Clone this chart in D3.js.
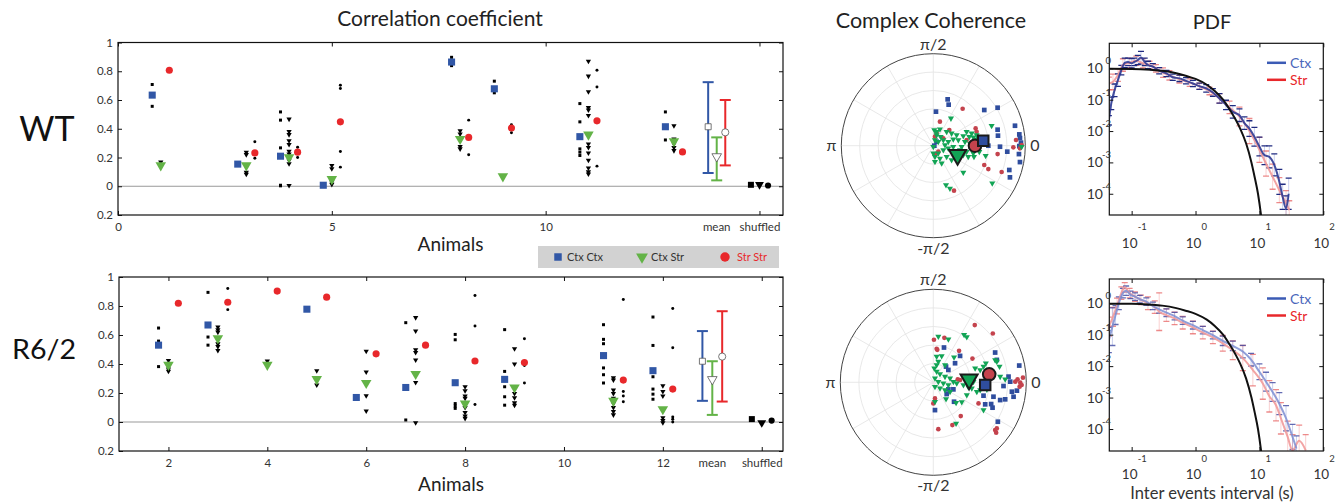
<!DOCTYPE html>
<html>
<head>
<meta charset="utf-8">
<script src="https://cdn.jsdelivr.net/npm/d3@7"></script>
<style>
  body { margin: 0; background: #fff; }
  text { font-family: Lato, "Open Sans", sans-serif; }
</style>
</head>
<body>
<svg id="fig" width="1340" height="504"></svg>
<script>
// ---------- correlation coefficient, WT ----------
var wtAnimals = [1, 3, 4, 5, 8, 9, 11, 13];
var wtCtxCtx = [0.634, 0.154, 0.209, 0.007, 0.864, 0.678, 0.345, 0.414];
var wtCtxStr = [0.145, 0.145, 0.202, 0.05, 0.329, 0.069, 0.359, 0.313];
var wtStrStr = [0.807, 0.232, 0.237, 0.448, 0.34, 0.405, 0.455, 0.239];
var wtPairsCtxCtx = [[0.708, 0.556], [0.154], [0.517, 0.46, 0.267, 0.007, 0.003], [0.005], [0.897, 0.839], [0.731, 0.65], [0.575, 0.448, 0.26, 0.237, 0.214], [0.517, 0.322]];
var wtPairsCtxStr = [[0.168, 0.145], [0.237, 0.22, 0.098, 0.083], [0.467, 0.381, 0.359, 0.317, 0.29, 0.243, 0.225, 0.18, 0.156, 0.005], [0.145, 0.122, 0.03, 0.013], [0.386, 0.363, 0.276, 0.26], [0.069], [0.869, 0.766, 0.657, 0.547, 0.53, 0.492, 0.294, 0.27, 0.232, 0.181, 0.127, 0.1, 0.085], [0.421, 0.329, 0.294, 0.27, 0.248]];
var wtPairsStrStr = [[], [0.31, 0.195], [0.271, 0.237, 0.2], [0.703, 0.68, 0.241, 0.133], [0.46, 0.219], [0.428, 0.372], [0.807, 0.69, 0.14], []];
var wtMeanVal = [0.414, 0.207, 0.375];
var wtMeanLo = [0.092, 0.041, 0.145];
var wtMeanHi = [0.724, 0.34, 0.6];
var wtShuffled = [0.01, 0.012, 0.005];
var wtXTicks = [0, 5, 10, 15];
var wtXTickLabels = ["0", "5", "10", "shuffled"];

// ---------- correlation coefficient, R6/2 ----------
var r6Animals = [2, 3, 4, 5, 6, 7, 8, 9, 11, 12];
var r6CtxCtx = [0.53, 0.669, null, 0.778, 0.169, 0.238, 0.271, 0.294, 0.458, 0.354];
var r6CtxStr = [0.394, 0.578, 0.394, 0.296, 0.269, 0.331, 0.127, 0.238, 0.146, 0.088];
var r6StrStr = [0.819, 0.826, 0.903, 0.861, 0.47, 0.53, 0.421, 0.41, 0.289, 0.227];
var r6PairsCtxCtx = [[0.648, 0.558, 0.382], [0.894, 0.586, 0.53], [], [], [], [0.685, 0.014], [0.604, 0.567, 0.127, 0.11, 0.094], [0.637, 0.349, 0.243, 0.174, 0.116], [0.671, 0.57, 0.54, 0.373, 0.326, 0.269], [0.724, 0.528, 0.312, 0.227, 0.192, 0.157]];
var r6PairsCtxStr = [[0.424, 0.366, 0.35], [0.655, 0.636, 0.62, 0.539, 0.52, 0.493], [0.42], [0.354, 0.255], [0.488, 0.345, 0.181, 0.076], [0.72, 0.627, 0.498, 0.48, 0.428, 0.273, -0.005], [0.243, 0.215, 0.18, 0.164, 0.1, 0.065, 0.042, 0.025], [0.505, 0.4, 0.197, 0.167, 0.132, 0.116], [0.305, 0.29, 0.22, 0.197, 0.164, 0.127, 0.1, 0.072, 0.049], [0.25, 0.211, 0.18, 0.03, 0.011, -0.005]];
var r6PairsStrStr = [[], [0.921, 0.775], [], [], [], [], [0.873, 0.662, 0.12], [0.574, 0.39, 0.269], [0.845, 0.211, 0.18, 0.139], [0.782, 0.512, 0.035, 0.019, 0.0]];
var r6MeanVal = [0.419, 0.294, 0.451];
var r6MeanLo = [0.146, 0.049, 0.141];
var r6MeanHi = [0.627, 0.419, 0.764];
var r6Shuffled = [0.02, -0.005, 0.01];
var r6XTicks = [2, 4, 6, 8, 10, 12, 14];
var r6XTickLabels = ["2", "4", "6", "8", "10", "12", "shuffled"];

var corrTicks = [-0.2, 0, 0.2, 0.4, 0.6, 0.8, 1];
var corrTickLabels = ["0.2", "0", "0.2", "0.4", "0.6", "0.8", "1"];
var pairNames = ["Ctx Ctx", "Ctx Str", "Str Str"];

// ---------- complex coherence [real, imag] ----------
var wtCohCtxCtx = [[0.156,0.504],[0.167,0.446],[0.029,0.370],[0.554,0.388],[0.699,0.413],[0.888,0.217],[0.935,0.123],[0.942,0.083],[0.699,0.174],[0.703,0.109],[0.725,-0.011],[0.804,-0.065],[0.935,-0.004],[0.931,-0.091],[0.942,-0.178],[0.826,-0.264],[0.833,-0.344],[0.036,0.043],[0.011,0.0],[0.598,0.0],[0.953,0.033]];
var wtCohStrStr = [[0.319,0.402],[0.072,0.261],[0.036,0.141],[0.174,0.170],[0.46,0.188],[0.471,0.152],[0.018,0.098],[0.054,-0.065],[0.018,-0.091],[0.554,-0.21],[0.598,-0.254],[0.743,-0.286],[0.699,-0.091],[0.87,-0.018],[0.899,0.062],[0.942,-0.029],[0.96,0.007],[0.225,-0.489],[0.109,0.080],[0.362,0.062],[0.5,0.043]];
var wtCohCtxStr = [[0.011,0.170],[0.036,0.152],[0.072,0.178],[0.145,0.152],[0.199,0.134],[0.254,0.116],[0.326,0.105],[0.391,0.098],[0.435,0.091],[0.471,0.069],[0.507,0.080],[0.018,0.062],[0.054,0.043],[0.109,0.062],[0.163,0.043],[0.217,0.069],[0.272,0.062],[0.344,0.043],[0.399,0.025],[0.453,-0.011],[0.417,-0.047],[0.362,-0.065],[0.290,-0.047],[0.217,-0.011],[0.163,-0.029],[0.109,-0.047],[0.054,-0.083],[0.018,-0.120],[0.072,-0.138],[0.145,-0.120],[0.199,-0.156],[0.254,-0.120],[0.326,-0.101],[0.380,-0.120],[0.435,-0.083],[0.5,-0.065],[0.018,-0.174],[0.091,-0.192],[0.362,0.152],[0.417,0.134],[0.471,0.116],[0.036,0.116],[0.080,0.098],[0.127,0.007],[0.199,-0.065],[0.308,-0.011],[0.442,-0.120],[0.192,0.297],[0.634,0.217],[0.641,-0.409],[0.138,-0.428],[0.181,-0.464],[0.326,-0.290],[0.569,-0.109],[0.960,-0.011],[0.0,-0.011],[0.0,-0.083]];
var wtCohMeans = [[0.543, 0.054], [0.264, -0.101], [0.453, 0.0]];

var r6CohCtxCtx = [[0.115,0.374],[0.288,0.284],[0.665,0.320],[0.234,0.205],[0.137,0.169],[0.162,0.133],[0.924,0.180],[0.809,0.061],[0.827,0.007],[0.755,-0.040],[0.845,-0.101],[0.899,-0.090],[0.863,-0.155],[0.773,-0.183],[0.719,-0.191],[0.647,-0.155],[0.540,-0.144],[0.558,-0.237],[0.637,-0.273],[0.622,-0.234],[0.694,-0.424],[0.162,-0.076],[0.216,-0.076],[0.144,-0.126],[0.223,-0.209],[0.018,-0.299],[0.683,0.241]];
var r6CohStrStr = [[0.446,0.615],[0.640,0.525],[0.007,0.457],[0.119,0.478],[0.036,0.360],[0.043,0.349],[0.277,0.338],[0.421,0.255],[0.263,0.032],[0.288,0.025],[0.018,-0.173],[0.0,-0.227],[0.486,-0.227],[0.295,-0.363],[0.205,-0.460],[0.054,-0.504],[0.665,-0.514],[0.683,-0.496],[0.676,-0.543],[0.906,0.032],[0.935,-0.004],[0.950,-0.029],[0.928,-0.047],[0.964,0.050],[0.881,0.007],[0.576,0.043]];
var r6CohCtxStr = [[0.054,0.493],[0.162,0.464],[0.331,0.511],[0.360,0.486],[0.036,0.277],[0.090,0.284],[0.223,0.270],[0.054,0.223],[0.665,0.241],[0.683,0.223],[0.712,0.169],[0.565,0.205],[0.540,0.169],[0.504,0.133],[0.450,0.151],[0.612,0.126],[0.647,0.079],[0.719,0.061],[0.773,0.032],[0.011,0.151],[0.036,0.115],[0.072,0.090],[0.126,0.061],[0.180,0.043],[0.216,0.007],[0.018,0.043],[0.054,0.007],[0.108,-0.011],[0.162,-0.029],[0.018,-0.047],[0.072,-0.065],[0.126,-0.083],[0.180,-0.101],[0.252,-0.011],[0.324,-0.029],[0.378,-0.054],[0.414,-0.065],[0.468,-0.101],[0.504,-0.083],[0.576,-0.076],[0.360,-0.137],[0.137,-0.180],[0.018,-0.209],[0.245,-0.219],[0.306,-0.212],[0.540,-0.299],[0.245,-0.442],[0.036,0.187],[0.126,0.187],[0.432,0.007]];
var r6CohMeans = [[0.558, -0.029], [0.385, 0.032], [0.601, 0.086]];

var polarLabels = ["0", "π/2", "π", "-π/2"];

// ---------- inter event interval PDF [x (s), pdf, error (decades)] ----------
var pdfWtCtx = [[0.044,0.022,0.15],[0.048,0.076,0.2],[0.054,0.2,0.2],[0.061,0.42,0.2],[0.069,0.88,0.15],[0.078,1.5,0.15],[0.088,1.6,0.12],[0.1,1.45,0.15],[0.11,1.6,0.12],[0.125,1.85,0.15],[0.14,2.2,0.2],[0.16,1.6,0.12],[0.18,1.28,0.12],[0.215,1.13,0.1],[0.27,0.84,0.1],[0.35,0.69,0.1],[0.44,0.52,0.1],[0.56,0.48,0.1],[0.71,0.40,0.1],[0.91,0.33,0.1],[1.15,0.27,0.1],[1.47,0.23,0.12],[1.87,0.17,0.12],[2.37,0.11,0.15],[3.0,0.068,0.15],[3.83,0.041,0.2],[4.87,0.032,0.2],[5.83,0.018,0.2],[6.97,0.012,0.25],[8.35,0.0066,0.3],[10,0.0032,0.3],[12,0.0017,0.3],[14.3,0.0015,0.35],[17.1,0.00083,0.35],[20.5,0.00024,0.4],[23.1,0.00008,0.4],[26.1,0.000034,0.4],[28.7,0.0001,0.5]];
var pdfWtStr = [[0.044,0.33,0.2],[0.051,0.37,0.25],[0.061,0.61,0.2],[0.073,1.28,0.2],[0.093,1.5,0.15],[0.118,1.75,0.15],[0.15,1.45,0.15],[0.19,1.28,0.12],[0.24,1.0,0.12],[0.31,0.73,0.15],[0.39,0.6,0.15],[0.56,0.45,0.12],[0.81,0.35,0.12],[1.15,0.27,0.1],[1.65,0.19,0.12],[2.37,0.11,0.15],[3.4,0.057,0.2],[4.87,0.029,0.3],[6.97,0.010,0.4],[10,0.0025,0.4],[12.7,0.00092,0.4],[16.1,0.00035,0.4],[20.5,0.00013,0.4],[26.1,0.00005,0.4],[29.3,0.00003,0.3]];
var pdfR6Ctx = [[0.044,0.068,0.4],[0.05,0.18,0.6],[0.056,0.42,0.3],[0.063,1.0,0.2],[0.073,2.1,0.15],[0.082,2.5,0.15],[0.096,1.85,0.12],[0.113,1.63,0.12],[0.134,1.34,0.12],[0.17,1.13,0.12],[0.215,0.82,0.12],[0.27,0.64,0.12],[0.35,0.5,0.12],[0.47,0.39,0.12],[0.63,0.28,0.12],[0.91,0.2,0.12],[1.3,0.14,0.12],[1.87,0.097,0.12],[2.67,0.064,0.15],[3.83,0.044,0.15],[5.5,0.029,0.2],[7.4,0.016,0.2],[10,0.0066,0.25],[12.7,0.0032,0.3],[16.1,0.0015,0.3],[20.5,0.00064,0.35],[26.1,0.00022,0.4],[33,0.000056,0.4],[38,0.000024,0.4]];
var pdfR6Str = [[0.044,0.18,0.3],[0.051,0.37,0.3],[0.059,0.82,0.25],[0.069,2.1,0.2],[0.078,3.2,0.15],[0.093,2.1,0.15],[0.113,1.63,0.15],[0.14,1.28,0.15],[0.18,1.0,0.2],[0.23,0.75,0.2],[0.27,0.54,0.6],[0.35,0.42,0.2],[0.47,0.33,0.2],[0.63,0.24,0.2],[0.91,0.17,0.2],[1.3,0.116,0.2],[1.87,0.082,0.2],[2.67,0.053,0.25],[3.83,0.032,0.3],[5.5,0.018,0.4],[7.9,0.0075,0.5],[11.3,0.0028,0.5],[14.3,0.0011,0.5],[18.2,0.00057,0.5],[21.7,0.00022,0.5],[27.7,0.000056,0.5],[33,0.000021,0.5],[41.9,0.000042,0.5],[53,0.000021,0.5]];
var pdfFit = [[0.045,0.97],[0.1,0.96],[0.2,0.9],[0.3,0.84],[0.5,0.7],[0.7,0.58],[1.0,0.46],[1.5,0.3],[2.0,0.19],[2.7,0.1],[3.5,0.045],[4.3,0.022],[5.0,0.012],[6.2,0.004],[7.5,0.001],[8.4,0.00035],[9.5,0.0001],[10.6,0.000021],[11.5,0.000005]];
var pdfXTicks = [0.1, 1, 10, 100];
var pdfYTicks = [1, 0.1, 0.01, 0.001, 0.0001];

// colours
var cBlue = "#3157a6", cGreen = "#63b347", cRed = "#e8282b";
var pBlue = "#2f4d9e", pGreen = "#12a455", pRed = "#c4434d";

var svg = d3.select("#fig");

function sym(type, size) { return d3.symbol().type(type).size(size)(); }

// ---------- scatter panels ----------
function scatterPanel(p) {
    var x = d3.scaleLinear().domain(p.xDomain).range([p.x0, p.x1]);
    var y = d3.scaleLinear().domain([-0.2, 1]).range([p.y1, p.y0]);
    var g = svg.append("g");

    g.append("line")
        .attr("x1", p.x0).attr("x2", p.x1)
        .attr("y1", y(0)).attr("y2", y(0))
        .attr("stroke", "#999").attr("stroke-width", 1);

    var ax = [];
    ax.push(g.append("g").attr("transform", "translate(0," + p.y1 + ")")
        .call(d3.axisBottom(x).tickValues(p.xTicks).tickFormat(function(d, i) { return p.xTickLabels[i]; }).tickSize(-4).tickPadding(8)));
    ax.push(g.append("g").attr("transform", "translate(0," + p.y0 + ")")
        .call(d3.axisTop(x).tickValues(p.xTicks).tickFormat("").tickSize(-4)));
    ax.push(g.append("g").attr("transform", "translate(" + p.x0 + ",0)")
        .call(d3.axisLeft(y).tickValues(corrTicks).tickFormat(function(d, i) { return corrTickLabels[i]; }).tickSize(-4).tickPadding(5)));
    ax.push(g.append("g").attr("transform", "translate(" + p.x1 + ",0)")
        .call(d3.axisRight(y).tickValues(corrTicks).tickFormat("").tickSize(-4)));
    ax.forEach(function(a) {
        a.select(".domain").remove();
        a.selectAll("line").attr("stroke", "#111");
        a.selectAll("text").attr("font-size", 11.5).attr("fill", "#333").attr("font-family", "Lato, sans-serif");
    });

    g.append("rect")
        .attr("x", p.x0).attr("y", p.y0)
        .attr("width", p.x1 - p.x0).attr("height", p.y1 - p.y0)
        .attr("fill", "none").attr("stroke", "#111").attr("stroke-width", 1.2);

    g.append("text").attr("x", x(p.meanX)).attr("y", p.y1 + 8).attr("dy", "0.71em")
        .attr("text-anchor", "middle").attr("font-size", 11.5).attr("fill", "#333").text("mean");

    // individual pairs, black
    var small = [];
    p.animals.forEach(function(a, i) {
        p.pairsCC[i].forEach(function(v) { small.push({ x: a - 0.2, v: v, t: 0 }); });
        p.pairsCS[i].forEach(function(v) { small.push({ x: a, v: v, t: 1 }); });
        p.pairsSS[i].forEach(function(v) { small.push({ x: a + 0.2, v: v, t: 2 }); });
    });
    g.selectAll(".pair").data(small).enter().append("path")
        .attr("transform", function(d) { return "translate(" + x(d.x) + "," + y(d.v) + ")" + (d.t == 1 ? " rotate(180)" : ""); })
        .attr("d", function(d) { return d.t == 0 ? sym(d3.symbolSquare, 9) : d.t == 1 ? sym(d3.symbolTriangle, 12) : sym(d3.symbolCircle, 7); })
        .attr("fill", "#000");

    // animal averages
    var avg = [];
    p.animals.forEach(function(a, i) {
        if (p.cc[i] != null) avg.push({ x: a - 0.2, v: p.cc[i], t: 0 });
        if (p.cs[i] != null) avg.push({ x: a, v: p.cs[i], t: 1 });
        if (p.ss[i] != null) avg.push({ x: a + 0.2, v: p.ss[i], t: 2 });
    });
    g.selectAll(".avg").data(avg).enter().append("path")
        .attr("transform", function(d) { return "translate(" + x(d.x) + "," + y(d.v) + ")" + (d.t == 1 ? " rotate(180)" : ""); })
        .attr("d", function(d) { return d.t == 0 ? sym(d3.symbolSquare, 50) : d.t == 1 ? sym(d3.symbolTriangle, 48) : sym(d3.symbolCircle, 40); })
        .attr("fill", function(d) { return [cBlue, cGreen, cRed][d.t]; });

    // mean with error bars
    var cols = [cBlue, cGreen, cRed];
    [0, 1, 2].forEach(function(k) {
        var xx = x(p.meanX + (k - 1) * 0.2);
        g.append("line").attr("x1", xx).attr("x2", xx).attr("y1", y(p.meanLo[k])).attr("y2", y(p.meanHi[k]))
            .attr("stroke", cols[k]).attr("stroke-width", 2);
        [p.meanLo[k], p.meanHi[k]].forEach(function(v) {
            g.append("line").attr("x1", xx - 5.5).attr("x2", xx + 5.5).attr("y1", y(v)).attr("y2", y(v))
                .attr("stroke", cols[k]).attr("stroke-width", 2);
        });
        g.append("path")
            .attr("transform", "translate(" + xx + "," + y(p.meanVal[k]) + ")" + (k == 1 ? " rotate(180)" : ""))
            .attr("d", [sym(d3.symbolSquare, 36), sym(d3.symbolTriangle, 40), sym(d3.symbolCircle, 40)][k])
            .attr("fill", "#fff").attr("stroke", "#555").attr("stroke-width", 0.8);
    });

    // shuffled
    [0, 1, 2].forEach(function(k) {
        var xx = x(p.shufX + (k - 1) * 0.2);
        g.append("path")
            .attr("transform", "translate(" + xx + "," + y(p.shuffled[k]) + ")" + (k == 1 ? " rotate(180)" : ""))
            .attr("d", [sym(d3.symbolSquare, 36), sym(d3.symbolTriangle, 34), sym(d3.symbolCircle, 30)][k])
            .attr("fill", "#000");
    });

    g.append("text").attr("x", (p.x0 + p.x1) / 2).attr("y", p.labelY)
        .attr("text-anchor", "middle").attr("font-size", 19).attr("fill", "#222").text("Animals");
}

scatterPanel({
    x0: 118, x1: 783, y0: 42.5, y1: 215, xDomain: [0, 15.55],
    xTicks: wtXTicks, xTickLabels: wtXTickLabels, meanX: 14, shufX: 15,
    animals: wtAnimals, cc: wtCtxCtx, cs: wtCtxStr, ss: wtStrStr,
    pairsCC: wtPairsCtxCtx, pairsCS: wtPairsCtxStr, pairsSS: wtPairsStrStr,
    meanVal: wtMeanVal, meanLo: wtMeanLo, meanHi: wtMeanHi, shuffled: wtShuffled, labelY: 251
});
scatterPanel({
    x0: 119, x1: 783, y0: 277, y1: 451, xDomain: [1, 14.43],
    xTicks: r6XTicks, xTickLabels: r6XTickLabels, meanX: 13, shufX: 14,
    animals: r6Animals, cc: r6CtxCtx, cs: r6CtxStr, ss: r6StrStr,
    pairsCC: r6PairsCtxCtx, pairsCS: r6PairsCtxStr, pairsSS: r6PairsStrStr,
    meanVal: r6MeanVal, meanLo: r6MeanLo, meanHi: r6MeanHi, shuffled: r6Shuffled, labelY: 491
});

svg.append("text").attr("x", 440).attr("y", 26).attr("text-anchor", "middle")
    .attr("font-size", 21).attr("fill", "#222").text("Correlation coefficient");
svg.append("text").attr("x", 47).attr("y", 141).attr("text-anchor", "middle")
    .attr("font-size", 34).attr("fill", "#111").text("WT");
svg.append("text").attr("x", 44).attr("y", 359).attr("text-anchor", "middle")
    .attr("font-size", 26).attr("textLength", 64).attr("lengthAdjust", "spacingAndGlyphs")
    .attr("fill", "#111").text("R6/2");

// legend between the panels
var leg = svg.append("g");
leg.append("rect").attr("x", 538).attr("y", 246).attr("width", 241).attr("height", 22).attr("fill", "#d2d2d2");
var legX = [558, 642, 725];
pairNames.forEach(function(name, k) {
    leg.append("path")
        .attr("transform", "translate(" + legX[k] + ",257)" + (k == 1 ? " rotate(180)" : ""))
        .attr("d", [sym(d3.symbolSquare, 56), sym(d3.symbolTriangle, 60), sym(d3.symbolCircle, 70)][k])
        .attr("fill", [cBlue, cGreen, cRed][k]);
    leg.append("text").attr("x", legX[k] + (k == 2 ? 12 : 9)).attr("y", 261)
        .attr("font-size", 11).attr("fill", k == 2 ? cRed : "#333").text(name);
});

// ---------- complex coherence ----------
function polarPanel(cx, cy, R, cc, cs, ss, means) {
    var g = svg.append("g").attr("transform", "translate(" + cx + "," + cy + ")");
    var sx = d3.scaleLinear().domain([-1, 1]).range([-R, R]);
    var sy = d3.scaleLinear().domain([-1, 1]).range([R, -R]);

    g.selectAll(".ring").data([0.2, 0.4, 0.6, 0.8]).enter().append("circle")
        .attr("r", function(d) { return sx(d); }).attr("fill", "none").attr("stroke", "#e2e2e2").attr("stroke-width", 0.8);
    g.selectAll(".spoke").data(d3.range(0, 360, 30)).enter().append("line")
        .attr("x2", function(d) { return R * Math.cos(d * Math.PI / 180); })
        .attr("y2", function(d) { return -R * Math.sin(d * Math.PI / 180); })
        .attr("stroke", "#e2e2e2").attr("stroke-width", 0.8);
    g.append("circle").attr("r", R).attr("fill", "none").attr("stroke", "#444").attr("stroke-width", 1);

    var lab = [[R + 5, 0, "start", "0.35em"], [0, -R - 4, "middle", "0"], [-R - 5, 0, "end", "0.35em"], [0, R + 16, "middle", "0"]];
    polarLabels.forEach(function(t, i) {
        g.append("text").attr("x", lab[i][0]).attr("y", lab[i][1]).attr("dy", lab[i][3])
            .attr("text-anchor", lab[i][2]).attr("font-size", 16).attr("fill", "#333").text(t);
    });

    function pts(data, type, size, col, flip) {
        g.append("g").selectAll("path").data(data).enter().append("path")
            .attr("transform", function(d) { return "translate(" + sx(d[0]) + "," + sy(d[1]) + ")" + (flip ? " rotate(180)" : ""); })
            .attr("d", sym(type, size)).attr("fill", col);
    }
    pts(cc, d3.symbolSquare, 22, pBlue, false);
    pts(ss, d3.symbolCircle, 17, pRed, false);
    pts(cs, d3.symbolTriangle, 16, pGreen, true);

    var mOrder = [1, 2, 0];
    mOrder.forEach(function(k) {
        g.append("path")
            .attr("transform", "translate(" + sx(means[k][0]) + "," + sy(means[k][1]) + ")" + (k == 1 ? " rotate(180)" : ""))
            .attr("d", [sym(d3.symbolSquare, 110), sym(d3.symbolTriangle, 125), sym(d3.symbolCircle, 125)][k])
            .attr("fill", [pBlue, pGreen, pRed][k]).attr("stroke", "#1a1a1a").attr("stroke-width", 2);
    });
}

svg.append("text").attr("x", 931).attr("y", 28).attr("text-anchor", "middle")
    .attr("font-size", 21.5).attr("fill", "#222").text("Complex Coherence");
polarPanel(933.3, 145.7, 92, wtCohCtxCtx, wtCohCtxStr, wtCohStrStr, wtCohMeans);
polarPanel(933.3, 382.3, 93, r6CohCtxCtx, r6CohCtxStr, r6CohStrStr, r6CohMeans);

// ---------- PDF panels ----------
var clipId = 0;
function pdfPanel(top, bottom, yDomain, ctx, str, dark, labOff, supOff) {
    var x0 = 1109.3, x1 = 1323.3;
    var x = d3.scaleLog().domain([0.0447, 100]).range([x0, x1]);
    var y = d3.scaleLog().domain(yDomain).range([bottom, top]);
    var g = svg.append("g");
    var id = "clip" + (clipId++);
    g.append("clipPath").attr("id", id).append("rect")
        .attr("x", x0).attr("y", top).attr("width", x1 - x0).attr("height", bottom - top);
    var c = g.append("g").attr("clip-path", "url(#" + id + ")");

    function errBars(data, lineCol, capCol) {
        var eg = c.append("g");
        data.forEach(function(d) {
            var lo = d[1] / Math.pow(10, d[2]), hi = d[1] * Math.pow(10, d[2]);
            eg.append("line").attr("x1", x(d[0])).attr("x2", x(d[0])).attr("y1", y(lo)).attr("y2", y(hi))
                .attr("stroke", lineCol).attr("stroke-width", 1);
            [lo, hi].forEach(function(v) {
                eg.append("line").attr("x1", x(d[0]) - 3).attr("x2", x(d[0]) + 3).attr("y1", y(v)).attr("y2", y(v))
                    .attr("stroke", capCol).attr("stroke-width", 1.3);
            });
        });
    }
    errBars(str, "rgba(240,120,120,0.35)", "rgba(230,90,90,0.7)");
    errBars(ctx, "rgba(80,100,200,0.3)", dark ? "#1f2a80" : "rgba(60,70,160,0.8)");

    var line = d3.line().x(function(d) { return x(d[0]); }).y(function(d) { return y(d[1]); }).curve(d3.curveMonotoneX);
    c.append("path").datum(str).attr("d", line).attr("fill", "none")
        .attr("stroke", "#f19a9a").attr("stroke-width", 2).attr("stroke-opacity", 0.9);
    c.append("path").datum(ctx).attr("d", line).attr("fill", "none")
        .attr("stroke", dark ? "#2d3a93" : "#7c8ed2").attr("stroke-width", 2).attr("stroke-opacity", dark ? 0.9 : 0.85);
    c.append("path").datum(pdfFit).attr("d", line).attr("fill", "none").attr("stroke", "#111").attr("stroke-width", 2);

    var ax = [];
    ax.push(g.append("g").attr("transform", "translate(0," + bottom + ")").call(d3.axisBottom(x).tickValues(pdfXTicks).tickFormat("").tickSize(-4)));
    ax.push(g.append("g").attr("transform", "translate(0," + top + ")").call(d3.axisTop(x).tickValues(pdfXTicks).tickFormat("").tickSize(-4)));
    ax.push(g.append("g").attr("transform", "translate(" + x0 + ",0)").call(d3.axisLeft(y).tickValues(pdfYTicks).tickFormat("").tickSize(-4)));
    ax.push(g.append("g").attr("transform", "translate(" + x1 + ",0)").call(d3.axisRight(y).tickValues(pdfYTicks).tickFormat("").tickSize(-4)));
    ax.forEach(function(a) { a.select(".domain").remove(); a.selectAll("line").attr("stroke", "#111"); });
    g.append("rect").attr("x", x0).attr("y", top).attr("width", x1 - x0).attr("height", bottom - top)
        .attr("fill", "none").attr("stroke", "#111").attr("stroke-width", 1.2);

    pdfXTicks.forEach(function(v) {
        var e = Math.round(Math.log10(v));
        g.append("text").attr("x", x(v) - 2).attr("y", bottom + labOff).attr("text-anchor", "middle")
            .attr("font-size", 13.5).attr("fill", "#333").text("10");
        g.append("text").attr("x", x(v) + 6).attr("y", bottom + supOff).attr("text-anchor", "start")
            .attr("font-size", 9.5).attr("fill", "#333").text(String(e));
    });
    pdfYTicks.forEach(function(v) {
        var e = Math.round(Math.log10(v));
        g.append("text").attr("x", 1103).attr("y", y(v) + 5).attr("text-anchor", "end")
            .attr("font-size", 14).attr("fill", "#333").text("10");
        g.append("text").attr("x", 1111).attr("y", y(v) - 4).attr("text-anchor", "end")
            .attr("font-size", 9.5).attr("fill", "#333").text(String(e));
    });

    // legend
    [["Ctx", "#3b5bb5", "#4a66bb"], ["Str", cRed, cRed]].forEach(function(l, i) {
        var ly = top + 19.5 + i * 17;
        g.append("line").attr("x1", 1267).attr("x2", 1286).attr("y1", ly).attr("y2", ly)
            .attr("stroke", l[1]).attr("stroke-width", 2.5);
        g.append("text").attr("x", 1290).attr("y", ly + 5).attr("font-size", 14).attr("fill", l[2]).text(l[0]);
    });
}

svg.append("text").attr("x", 1212).attr("y", 29).attr("text-anchor", "middle")
    .attr("font-size", 20).attr("fill", "#222").text("PDF");
pdfPanel(43.3, 215, [2.1e-5, 6.3], pdfWtCtx, pdfWtStr, true, 33, 15);
pdfPanel(279, 451, [2.0e-5, 5.9], pdfR6Ctx, pdfR6Str, false, 28, 11);
svg.append("text").attr("x", 1212).attr("y", 499).attr("text-anchor", "middle")
    .attr("font-size", 16.5).attr("fill", "#333").text("Inter events interval (s)");
</script>
</body>
</html>
